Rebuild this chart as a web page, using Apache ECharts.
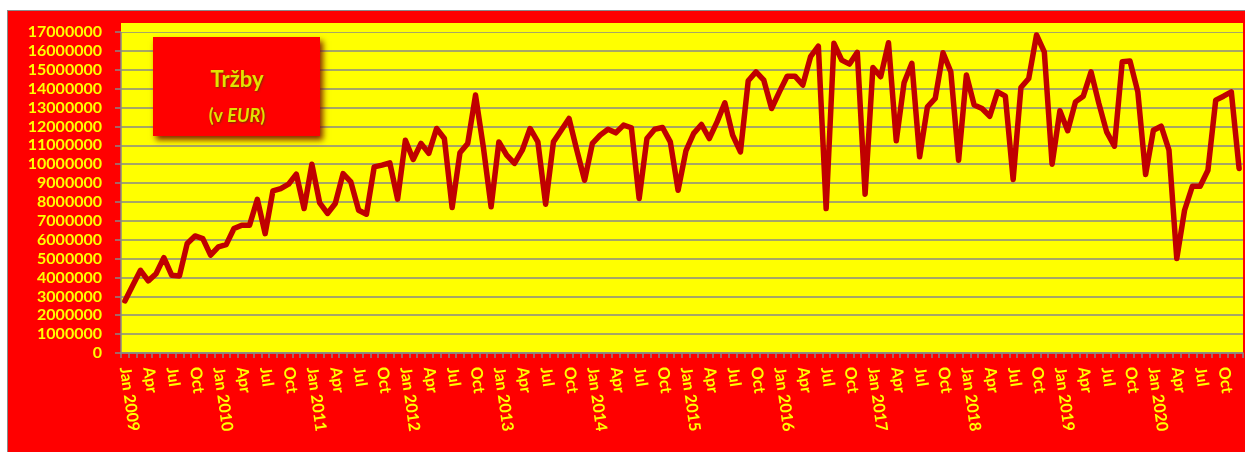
<!DOCTYPE html>
<html>
<head>
<meta charset="utf-8">
<script src="https://cdn.jsdelivr.net/npm/echarts@6/dist/echarts.min.js"></script>
<style>
  html, body { margin: 0; padding: 0; background: #ffffff; }
  #bg { position: absolute; left: 7px; top: 10px; width: 1238px; height: 442px; background: #ff0000;
        border-left: 1px solid #8a8a8a; border-top: 1px solid #8a8a8a; box-sizing: border-box; }
  #chart { position: absolute; left: 0; top: 0; width: 1245px; height: 452px; }
</style>
</head>
<body>
<div id="bg"></div>
<div id="chart"></div>
<script>
const years = [2009, 2010, 2011, 2012, 2013, 2014, 2015, 2016, 2017, 2018, 2019, 2020];
const months = ['Jan', 'Feb', 'Mar', 'Apr', 'May', 'Jun', 'Jul', 'Aug', 'Sep', 'Oct', 'Nov', 'Dec'];
const labeledMonths = ['Jan', 'Apr', 'Jul', 'Oct'];

const sales2009 = [2760000, 3570000, 4380000, 3820000, 4200000, 5050000, 4120000, 4080000, 5800000, 6200000, 6060000, 5180000];
const sales2010 = [5620000, 5740000, 6590000, 6770000, 6770000, 8140000, 6320000, 8590000, 8710000, 8940000, 9470000, 7650000];
const sales2011 = [10000000, 7950000, 7390000, 7920000, 9500000, 9060000, 7560000, 7350000, 9860000, 9950000, 10070000, 8150000];
const sales2012 = [11270000, 10250000, 11100000, 10570000, 11890000, 11360000, 7700000, 10600000, 11100000, 13660000, 10920000, 7740000];
const sales2013 = [11180000, 10480000, 10040000, 10740000, 11890000, 11180000, 7880000, 11180000, 11800000, 12420000, 10740000, 9150000];
const sales2014 = [11100000, 11540000, 11850000, 11660000, 12070000, 11930000, 8180000, 11360000, 11850000, 11940000, 11180000, 8620000];
const sales2015 = [10700000, 11630000, 12100000, 11360000, 12240000, 13250000, 11540000, 10650000, 14420000, 14890000, 14450000, 12950000];
const sales2016 = [13830000, 14660000, 14660000, 14190000, 15690000, 16250000, 7650000, 16400000, 15510000, 15300000, 15920000, 8410000];
const sales2017 = [15120000, 14630000, 16430000, 11240000, 14310000, 15340000, 10390000, 13040000, 13480000, 15900000, 14890000, 10210000];
const sales2018 = [14720000, 13130000, 12950000, 12540000, 13830000, 13600000, 9190000, 14060000, 14540000, 16840000, 15950000, 10000000];
const sales2019 = [12830000, 11770000, 13300000, 13600000, 14890000, 13220000, 11710000, 10950000, 15420000, 15460000, 13830000, 9450000];
const sales2020 = [11800000, 12010000, 10740000, 5000000, 7560000, 8830000, 8830000, 9680000, 13390000, 13600000, 13830000, 9770000];

const yTicksMax = 17000000;
const yTickStep = 1000000;

const categories = [];
years.forEach(y => months.forEach(m => categories.push(m + ' ' + y)));
const sales = [].concat(sales2009, sales2010, sales2011, sales2012, sales2013, sales2014,
                        sales2015, sales2016, sales2017, sales2018, sales2019, sales2020);

const titleShadow = { textShadowColor: 'rgba(90,60,0,0.75)', textShadowBlur: 2, textShadowOffsetX: 1, textShadowOffsetY: 1 };

const chart = echarts.init(document.getElementById('chart'), null, { renderer: 'canvas' });
chart.setOption({
  backgroundColor: 'transparent',
  animation: false,
  grid: {
    left: 121, right: 2, top: 32, bottom: 99,
    show: true, backgroundColor: '#ffff00', borderWidth: 0
  },
  graphic: {
    elements: [
      { type: 'rect', z: 100, shape: { x: 121, y: 23, width: 1122, height: 9 },
        style: { fill: '#ffff00' }, silent: true },
      { type: 'rect', z: 101, shape: { x: 153, y: 37, width: 167, height: 99 },
        style: { fill: '#ff0000', shadowBlur: 6, shadowOffsetX: 3, shadowOffsetY: 4,
                 shadowColor: 'rgba(110,0,0,0.85)' }, silent: true },
      { type: 'text', z: 102, x: 237, y: 80,
        style: Object.assign({
          text: 'Tržby', align: 'center', verticalAlign: 'middle',
          font: 'bold 22px Lato, "Open Sans", sans-serif', fill: '#e2e200'
        }, titleShadow), silent: true },
      { type: 'text', z: 102, x: 237, y: 116,
        style: {
          text: '{a|(v }{b|EUR}{a|)}', align: 'center', verticalAlign: 'middle',
          rich: {
            a: Object.assign({ font: 'bold 18px Lato, "Open Sans", sans-serif', fill: '#e2e200' }, titleShadow),
            b: Object.assign({ font: 'italic bold 18px Lato, "Open Sans", sans-serif', fill: '#e2e200' }, titleShadow)
          }
        }, silent: true }
    ]
  },
  xAxis: {
    type: 'category',
    data: categories,
    boundaryGap: true,
    axisLine: { show: true, lineStyle: { color: '#888888', width: 1.5 } },
    axisTick: { show: true, interval: 0, length: 5, lineStyle: { color: '#888888', width: 1.5 } },
    splitLine: { show: false },
    axisLabel: {
      interval: 0,
      rotate: -82,
      margin: 14,
      color: '#ffff00',
      fontFamily: 'Lato, "Open Sans", sans-serif',
      fontSize: 16,
      fontWeight: 'bold',
      formatter: function (v) {
        const m = v.split(' ')[0];
        if (labeledMonths.indexOf(m) < 0) return '';
        return m === 'Jan' ? v : m;
      }
    }
  },
  yAxis: {
    type: 'value',
    min: 0,
    max: yTicksMax,
    interval: yTickStep,
    axisLine: { show: true, lineStyle: { color: '#888888', width: 1.5 } },
    axisTick: { show: true, length: 6, lineStyle: { color: '#888888', width: 1.5 } },
    splitLine: { show: true, lineStyle: { color: '#888888', width: 1.6 } },
    axisLabel: {
      margin: 19,
      color: '#ffff00',
      fontFamily: 'Lato, "Open Sans", sans-serif',
      fontWeight: 'bold',
      fontSize: 16,
      formatter: function (v) { return String(v); }
    }
  },
  series: [{
    name: 'Tržby',
    type: 'line',
    data: sales,
    showSymbol: false,
    symbol: 'none',
    lineStyle: { color: '#c00000', width: 5.5, join: 'round', cap: 'round' },
    itemStyle: { color: '#c00000' }
  }]
});
</script>
</body>
</html>
